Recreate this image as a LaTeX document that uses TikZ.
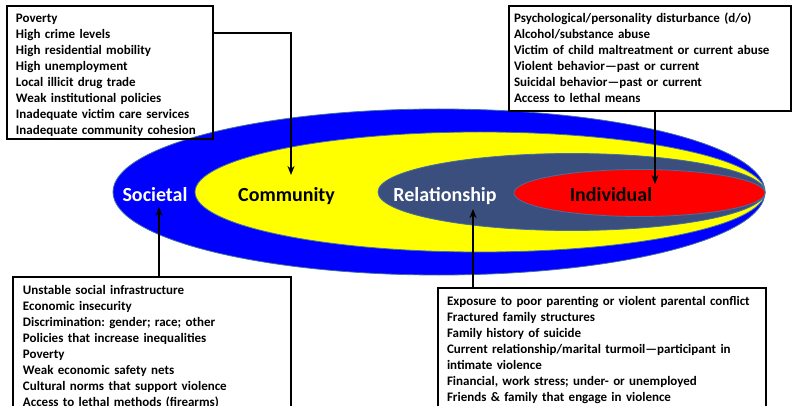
\documentclass[tikz,border=0pt]{standalone}
\usepackage{fontspec}
\setmainfont{Carlito}
\usepackage{tikz}
\usetikzlibrary{arrows.meta}
\definecolor{societyblue}{RGB}{0,0,255}
\definecolor{communityyellow}{RGB}{255,255,0}
\definecolor{relationslate}{RGB}{58,79,126}
\definecolor{individualred}{RGB}{255,0,0}
\definecolor{ringedge}{RGB}{70,112,160}
\frenchspacing

\begin{document}
\begin{tikzpicture}[
		x=1pt, y=-1pt,
		>={Stealth[length=9pt,width=7pt]},
		ring/.style={draw=ringedge, line width=0.8pt},
		level/.style={font=\fontsize{20}{24}\selectfont\bfseries, anchor=base},
		factors/.style={draw, line width=2pt, anchor=north west, align=left,
			inner ysep=1.5pt, text height=15.5pt,
			font=\fontsize{13}{16}\selectfont\bfseries},
		pointer/.style={->, line width=1.6pt},
	]
		\useasboundingbox (0,0) rectangle (792,406);

		% rings
		\draw [ring, fill=societyblue] (439,192) ellipse [x radius=326pt, y radius=83pt];
		\draw [ring, fill=communityyellow] (480,192) ellipse [x radius=285pt, y radius=60pt];
		\draw [ring, fill=relationslate] (571.5,192) ellipse [x radius=193.5pt, y radius=38.5pt];
		\draw [ring, fill=individualred] (639.5,193) ellipse [x radius=125.5pt, y radius=23.5pt];

		% level names
		\node [level, text=white] (societal) at (155,202) {Societal};
		\node [level] (community) at (286.5,202) {Community};
		\node [level, text=white] (relationship) at (445,202) {Relationship};
		\node [level] (individual) at (611,202) {Individual};

		% factor boxes
		\node [factors, inner xsep=9pt, text width=188pt, text depth=114.5pt] (commbox) at (6,5) {
			Poverty\\
			High crime levels\\
			High residential mobility\\
			High unemployment\\
			Local illicit drug trade\\
			Weak institutional policies\\
			Inadequate victim care services\\
			Inadequate community cohesion};
		\node [factors, inner xsep=5pt, text width=272pt, text depth=86.5pt] (indivbox) at (508,5) {
			Psychological/personality disturbance (d/o)\\
			Alcohol/substance abuse\\
			Victim of child maltreatment or current abuse\\
			Violent behavior—past or current\\
			Suicidal behavior—past or current\\
			Access to lethal means};
		\node [factors, inner xsep=10pt, text width=258pt, text depth=125pt] (socbox) at (12,276) {
			Unstable social infrastructure\\
			Economic insecurity\\
			Discrimination: gender; race; other\\
			Policies that increase inequalities\\
			Poverty\\
			Weak economic safety nets\\
			Cultural norms that support violence\\
			Access to lethal methods (firearms)};
		\node [factors, inner xsep=9pt, text width=310pt, text depth=110pt] (relbox) at (437,287) {
			Exposure to poor parenting or violent parental conflict\\
			Fractured family structures\\
			Family history of suicide\\
			Current relationship/marital turmoil—participant in\\
			intimate violence\\
			Financial, work stress; under- or unemployed\\
			Friends \& family that engage in violence};

		% pointers
		\coordinate (commtip) at (291,175);
		\coordinate (indivtip) at (655,184);
		\coordinate (soctip) at (159,207);
		\coordinate (reltip) at (473,209);
		\draw [pointer] ([yshift=-28pt]commbox.north east) -| (commtip);
		\draw [pointer] (indivbox.south -| indivtip) -- (indivtip);
		\draw [pointer] (socbox.north -| soctip) -- (soctip);
		\draw [pointer] (relbox.north -| reltip) -- (reltip);
	\end{tikzpicture}
\end{document}
